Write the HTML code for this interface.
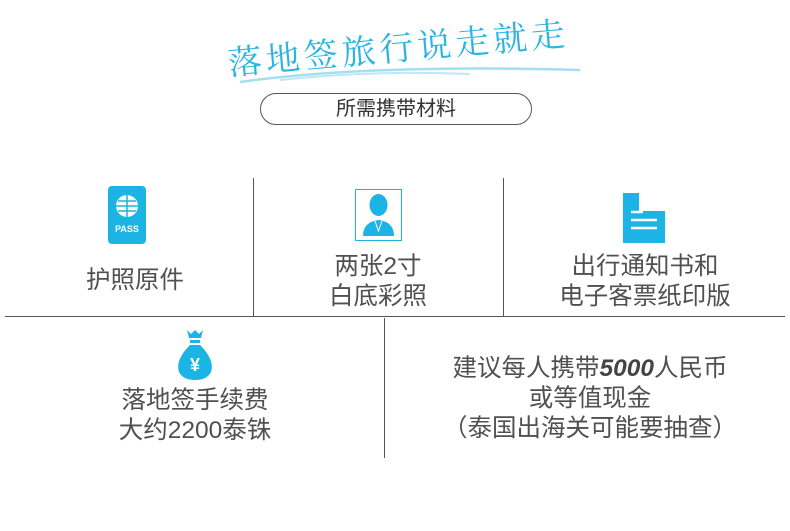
<!DOCTYPE html>
<html><head><meta charset="utf-8"><style>
body{margin:0;width:790px;height:531px;background:#fff;position:relative;overflow:hidden;font-family:"Liberation Sans","Noto Sans CJK SC",sans-serif;color:#555}
.a{position:absolute}
.t{position:absolute;text-align:center;font-size:24.5px;line-height:30px;color:#505050}
</style></head><body>
<div class="a" style="left:230px;top:36px;font-size:34px;color:#2ab4e2;transform:rotate(-5deg);transform-origin:left bottom;letter-spacing:4px;font-family:'Noto Serif CJK SC','Noto Sans CJK SC',serif;white-space:nowrap">落地签旅行说走就走</div>
<svg class="a" style="left:220px;top:60px" width="370" height="30"><path d="M20 22 Q150 4 360 10" stroke="#8fd6ef" stroke-width="2.5" fill="none" opacity=".8"/><path d="M60 20 Q150 10 250 14" stroke="#bfe7f5" stroke-width="2" fill="none"/></svg>
<div class="a" style="left:260px;top:93px;width:270px;height:30px;border:1px solid #555;border-radius:16px;text-align:center;font-size:20px;line-height:30px;color:#333">所需携带材料</div>
<div class="a" style="left:5px;top:316px;width:780px;border-top:1.5px solid #555"></div>
<div class="a" style="left:253px;top:178px;height:138px;border-left:1px solid #555"></div>
<div class="a" style="left:503px;top:178px;height:138px;border-left:1px solid #555"></div>
<div class="a" style="left:384px;top:318px;height:140px;border-left:1px solid #555"></div>
<div class="a" style="left:108px;top:186px;width:38px;height:58px;background:#1bb4e4;border-radius:4px"></div>
<svg class="a" style="left:108px;top:186px" width="38" height="58"><circle cx="19" cy="20" r="11" fill="#fff"/><path d="M8 20h22M19 9v22M10 15h18M10 25h18" stroke="#1bb4e4" stroke-width="1.5"/><text x="19" y="46" font-size="9" font-weight="bold" fill="#fff" text-anchor="middle" font-family="Liberation Sans">PASS</text></svg>
<div class="a" style="left:355px;top:189px;width:47px;height:52px;border:1.5px solid #1bb4e4;box-sizing:border-box"></div>
<svg class="a" style="left:355px;top:189px" width="47" height="52"><ellipse cx="23.5" cy="16" rx="9" ry="11" fill="#1bb4e4"/><path d="M8 47 Q8 33 23.5 31 Q39 33 39 47Z" fill="#1bb4e4"/><path d="M20 32 L23.5 42 L27 32" stroke="#fff" fill="none"/></svg>
<svg class="a" style="left:623px;top:193px" width="42" height="50"><path d="M0 0h16v18h26v32H0z" fill="#1bb4e4"/><path d="M8 27h26M8 35h26" stroke="#fff" stroke-width="2.5"/><path d="M8 19h12" stroke="#fff" stroke-width="2.5"/></svg>
<svg class="a" style="left:175px;top:330px" width="40" height="50"><path d="M12 0l4 4 4-4 4 4 4-4-2 8H14z" fill="#1bb4e4"/><rect x="15" y="10" width="10" height="3" fill="#1bb4e4"/><path d="M15 15 Q0 30 4 42 Q8 50 20 50 Q32 50 36 42 Q40 30 25 15z" fill="#1bb4e4"/><text x="20" y="41" font-size="18" font-weight="bold" fill="#fff" text-anchor="middle" font-family="Liberation Sans">¥</text></svg>
<div class="t" style="left:60px;top:266px;width:150px">护照原件</div>
<div class="t" style="left:303px;top:252px;width:150px">两张2寸<br>白底彩照</div>
<div class="t" style="left:530px;top:252px;width:230px">出行通知书和<br>电子客票纸印版</div>
<div class="t" style="left:65px;top:386px;width:260px">落地签手续费<br>大约2200泰铢</div>
<div class="t" style="left:395px;top:354px;width:390px">建议每人携带<b style="font-style:italic;color:#444">5000</b>人民币<br>或等值现金<br>（泰国出海关可能要抽查）</div>
</body></html>
